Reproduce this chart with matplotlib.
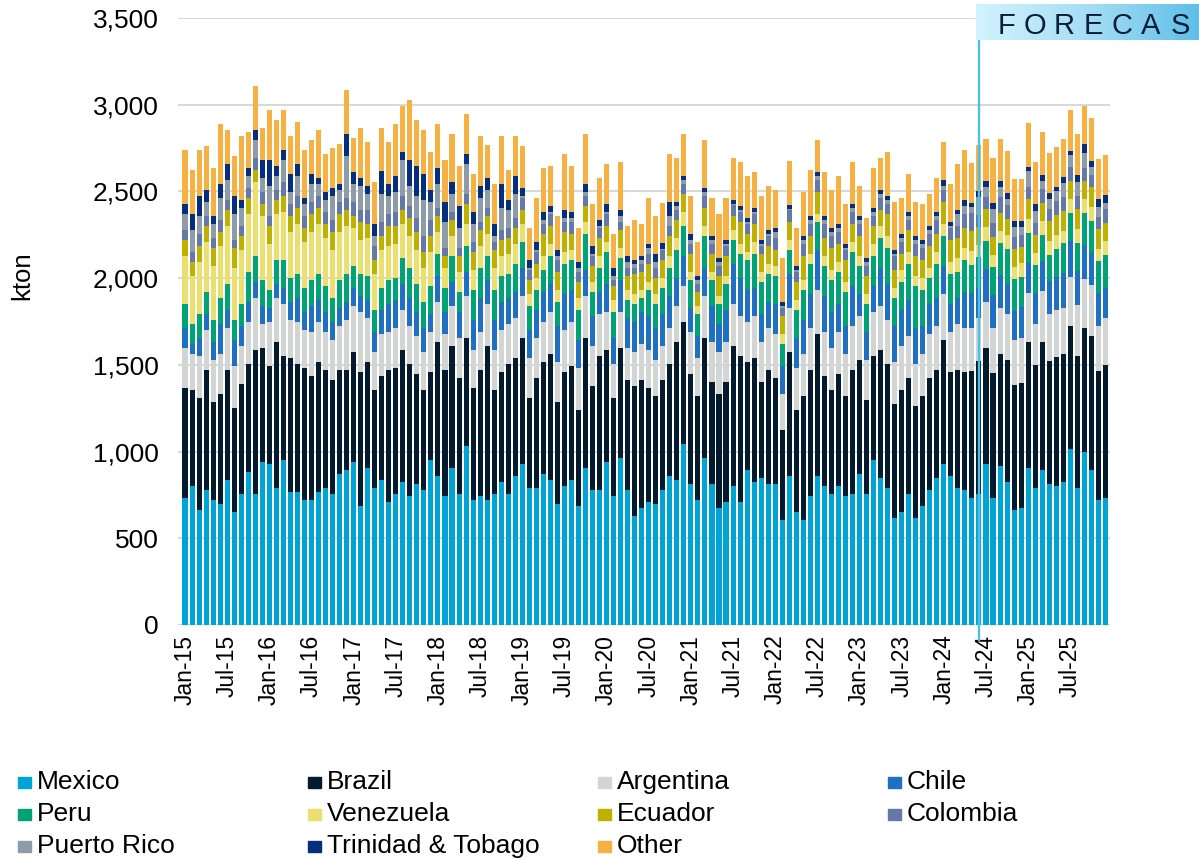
import numpy as np
import pandas as pd
import matplotlib
matplotlib.use('Agg')
import matplotlib.pyplot as plt
from matplotlib.patches import Rectangle
from matplotlib.colors import LinearSegmentedColormap

plt.rcParams['font.family'] = ['Liberation Sans', 'DejaVu Sans']

# monthly imports, kton, Jan-15 .. Dec-25 (one row per year)
mexico = [731, 800, 662, 777, 719, 696, 834, 650, 755, 880, 755, 939,
          927, 789, 951, 765, 765, 719, 719, 765, 789, 755, 870, 893,
          939, 684, 905, 789, 834, 708, 755, 824, 743, 812, 777, 951,
          858, 743, 905, 755, 1030, 719, 743, 719, 755, 824, 755, 858,
          927, 789, 789, 870, 834, 696, 800, 834, 684, 905, 777, 777,
          939, 743, 961, 777, 627, 674, 708, 696, 777, 858, 834, 1042,
          812, 719, 961, 812, 674, 708, 800, 708, 893, 824, 846, 812,
          812, 603, 858, 650, 603, 743, 858, 800, 755, 800, 743, 755,
          870, 755, 951, 846, 789, 615, 650, 755, 615, 684, 777, 846,
          927, 858, 789, 777, 733, 756, 930, 733, 919, 826, 663, 675,
          907, 791, 896, 814, 802, 826, 1012, 791, 1000, 896, 721, 733]
brazil = [636, 555, 646, 692, 567, 636, 636, 601, 634, 623, 830, 658,
          565, 842, 599, 773, 739, 763, 716, 751, 680, 658, 599, 577,
          634, 773, 611, 565, 601, 761, 727, 761, 761, 636, 577, 506,
          773, 727, 704, 668, 623, 648, 727, 891, 599, 634, 749, 680,
          727, 518, 634, 646, 729, 589, 658, 658, 555, 749, 599, 773,
          646, 565, 636, 636, 749, 739, 658, 623, 636, 646, 797, 704,
          636, 601, 692, 589, 658, 692, 810, 842, 623, 714, 555, 658,
          611, 520, 714, 589, 716, 727, 820, 636, 599, 648, 577, 714,
          658, 542, 599, 739, 714, 658, 704, 668, 648, 636, 646, 623,
          716, 599, 680, 680, 730, 765, 668, 719, 644, 702, 719, 719,
          726, 707, 737, 707, 742, 737, 714, 761, 714, 772, 742, 765]
argentina = [231, 208, 243, 231, 243, 231, 243, 241, 221, 243, 300, 138,
             255, 253, 300, 221, 243, 219, 253, 231, 219, 231, 255, 289,
             267, 346, 253, 219, 243, 219, 231, 231, 221, 219, 219, 231,
             231, 208, 231, 231, 243, 219, 219, 241, 231, 243, 231, 231,
             243, 231, 231, 231, 241, 231, 243, 255, 243, 243, 233, 243,
             219, 196, 206, 184, 196, 206, 219, 208, 196, 208, 208, 208,
             241, 219, 243, 231, 241, 231, 241, 231, 231, 243, 231, 243,
             255, 208, 255, 243, 243, 243, 253, 253, 243, 241, 243, 255,
             253, 231, 253, 255, 255, 243, 255, 243, 241, 243, 255, 255,
             265, 231, 265, 255, 251, 251, 267, 263, 267, 267, 263, 263,
             279, 240, 291, 274, 274, 267, 279, 291, 279, 291, 263, 274]
chile = [117, 57, 103, 93, 103, 172, 103, 152, 115, 115, 93, 103,
         81, 81, 93, 103, 138, 103, 150, 128, 115, 103, 103, 103,
         103, 93, 105, 115, 138, 162, 162, 150, 160, 138, 140, 105,
         150, 125, 138, 150, 138, 174, 196, 140, 174, 162, 150, 150,
         162, 162, 162, 172, 162, 208, 208, 184, 162, 150, 172, 125,
         162, 150, 186, 172, 174, 184, 196, 184, 184, 184, 160, 172,
         140, 128, 162, 208, 162, 184, 231, 219, 184, 162, 162, 150,
         172, 160, 196, 172, 196, 196, 231, 208, 206, 162, 162, 231,
         128, 160, 152, 219, 206, 208, 206, 208, 208, 162, 172, 160,
         162, 162, 150, 206, 198, 174, 186, 186, 186, 174, 163, 174,
         174, 174, 174, 186, 186, 198, 209, 198, 198, 186, 186, 174]
peru = [138, 115, 140, 125, 128, 150, 150, 115, 125, 172, 150, 152,
        103, 140, 162, 138, 140, 140, 152, 150, 152, 138, 162, 162,
        128, 128, 138, 128, 128, 140, 125, 150, 174, 162, 150, 162,
        128, 140, 150, 115, 152, 172, 174, 138, 172, 150, 140, 162,
        150, 140, 115, 128, 162, 138, 172, 174, 172, 208, 138, 140,
        184, 150, 125, 105, 103, 81, 150, 138, 150, 162, 162, 174,
        162, 128, 184, 150, 115, 150, 140, 140, 174, 196, 184, 162,
        162, 128, 138, 162, 172, 172, 162, 174, 186, 184, 194, 194,
        162, 162, 172, 172, 208, 160, 162, 206, 243, 206, 150, 196,
        172, 174, 150, 186, 163, 174, 163, 163, 186, 198, 186, 174,
        174, 163, 151, 151, 163, 174, 163, 163, 186, 186, 186, 186]
venezuela = [275, 277, 300, 289, 312, 302, 336, 300, 312, 336, 427, 368,
             265, 265, 277, 267, 287, 265, 277, 287, 275, 277, 277, 277,
             219, 196, 219, 208, 219, 196, 196, 196, 184, 196, 196, 194,
             128, 115, 115, 115, 125, 115, 128, 128, 128, 115, 115, 115,
             103, 69, 69, 81, 69, 69, 69, 57, 69, 69, 59, 69,
             59, 71, 59, 57, 59, 47, 47, 59, 57, 69, 69, 81,
             45, 47, 59, 45, 47, 47, 57, 57, 45, 69, 57, 57,
             59, 59, 59, 59, 57, 59, 47, 57, 57, 59, 59, 59,
             57, 59, 69, 71, 69, 59, 69, 69, 57, 69, 59, 69,
             69, 69, 81, 69, 81, 70, 81, 70, 70, 81, 70, 81,
             81, 70, 81, 81, 81, 70, 81, 81, 81, 81, 70, 81]
ecuador = [93, 81, 93, 93, 103, 81, 91, 115, 81, 91, 69, 69,
           105, 81, 91, 91, 93, 81, 103, 93, 81, 105, 103, 91,
           69, 103, 81, 81, 81, 115, 105, 81, 103, 105, 91, 93,
           91, 69, 93, 93, 115, 103, 91, 103, 103, 93, 91, 93,
           81, 81, 81, 128, 105, 103, 117, 93, 93, 93, 93, 103,
           93, 81, 103, 81, 115, 103, 103, 91, 105, 115, 105, 103,
           105, 79, 103, 105, 115, 115, 81, 128, 105, 103, 105, 105,
           91, 103, 103, 103, 140, 103, 128, 103, 128, 103, 128, 103,
           115, 103, 105, 91, 128, 103, 93, 128, 115, 105, 128, 105,
           128, 128, 115, 115, 116, 105, 105, 105, 105, 93, 105, 93,
           116, 105, 105, 116, 116, 116, 105, 116, 105, 116, 116, 105]
colombia = [57, 57, 69, 57, 57, 69, 59, 47, 59, 59, 69, 71,
            57, 57, 81, 69, 69, 69, 69, 69, 71, 69, 69, 69,
            81, 69, 81, 81, 81, 69, 81, 81, 71, 79, 93, 93,
            47, 47, 47, 47, 59, 59, 47, 47, 47, 57, 59, 57,
            69, 57, 69, 57, 69, 71, 57, 69, 57, 57, 57, 59,
            69, 34, 47, 47, 34, 47, 59, 59, 57, 59, 57, 57,
            57, 47, 69, 57, 59, 59, 59, 59, 57, 59, 47, 57,
            69, 47, 69, 57, 69, 69, 69, 81, 69, 71, 57, 71,
            69, 59, 57, 69, 57, 81, 69, 59, 69, 69, 69, 81,
            69, 69, 71, 81, 105, 70, 70, 81, 93, 81, 70, 70,
            70, 70, 81, 70, 81, 81, 79, 70, 70, 67, 70, 81]
puerto_rico = [93, 128, 103, 81, 81, 125, 115, 150, 103, 69, 105, 79,
               174, 81, 128, 71, 115, 69, 103, 69, 69, 138, 69, 243,
               103, 140, 93, 57, 162, 103, 115, 208, 115, 128, 208, 103,
               138, 150, 103, 115, 172, 103, 138, 103, 34, 128, 103, 140,
               12, 12, 12, 24, 12, 22, 22, 22, 24, 24, 12, 12,
               12, 22, 34, 34, 22, 24, 34, 34, 5, 57, 24, 24,
               24, 24, 24, 24, 22, 10, 10, 10, 12, 12, 10, 12,
               36, 12, 5, 12, 24, 24, 22, 24, 24, 22, 12, 22,
               24, 22, 24, 24, 24, 12, 22, 22, 24, 22, 22, 22,
               24, 12, 69, 47, 35, 105, 58, 81, 58, 35, 58, 47,
               91, 70, 47, 58, 58, 81, 70, 81, 91, 47, 58, 35]
trinidad = [57, 93, 115, 69, 47, 81, 91, 103, 47, 47, 57, 105,
            150, 59, 57, 103, 69, 34, 59, 34, 47, 47, 34, 128,
            71, 45, 47, 69, 128, 69, 91, 47, 150, 174, 150, 69,
            93, 115, 69, 128, 59, 71, 71, 69, 69, 138, 59, 103,
            47, 47, 47, 47, 34, 34, 47, 36, 34, 45, 47, 34,
            45, 47, 34, 34, 24, 22, 22, 47, 34, 81, 22, 22,
            34, 22, 22, 22, 22, 24, 24, 24, 22, 22, 24, 22,
            22, 22, 24, 24, 22, 22, 24, 22, 22, 22, 22, 22,
            22, 22, 22, 22, 22, 22, 24, 24, 22, 24, 24, 24,
            34, 22, 22, 34, 23, 35, 35, 35, 35, 35, 35, 35,
            23, 35, 33, 35, 23, 35, 23, 44, 47, 35, 47, 47]
other = [312, 253, 265, 255, 277, 346, 196, 231, 368, 208, 255, 184,
         287, 265, 231, 219, 243, 277, 196, 277, 219, 231, 231, 253,
         194, 289, 253, 243, 253, 243, 300, 265, 346, 265, 253, 221,
         253, 243, 277, 231, 231, 219, 287, 186, 231, 277, 172, 231,
         243, 184, 253, 253, 231, 196, 324, 265, 196, 289, 241, 241,
         231, 196, 277, 174, 231, 184, 265, 219, 231, 277, 253, 243,
         219, 196, 277, 219, 255, 241, 241, 253, 243, 208, 253, 255,
         219, 253, 253, 219, 255, 265, 184, 255, 219, 277, 231, 243,
         174, 231, 231, 184, 255, 277, 206, 219, 196, 206, 184, 194,
         219, 219, 265, 287, 230, 265, 242, 254, 242, 242, 242, 242,
         256, 242, 244, 230, 230, 219, 233, 233, 221, 244, 230, 230]

names = ['Mexico', 'Brazil', 'Argentina', 'Chile', 'Peru', 'Venezuela',
         'Ecuador', 'Colombia', 'Puerto Rico', 'Trinidad & Tobago', 'Other']
series = [mexico, brazil, argentina, chile, peru, venezuela,
          ecuador, colombia, puerto_rico, trinidad, other]
colors = ['#00a3d6', '#031a2f', '#d3d4d4', '#1f6fc3', '#00a374', '#ebdf6f',
          '#bfb100', '#6479a9', '#8e9ba8', '#062e7e', '#f7b143']

months = pd.date_range('2015-01-01', '2025-12-01', freq='MS')
labels = [m.strftime('%b-%y') for m in months]
forecast_start = 'Jun-24'

fig = plt.figure(figsize=(11.99, 8.6), dpi=100)
ax = fig.add_axes([178 / 1199, 1 - 625 / 860, 932 / 1199, 607 / 860])

x = np.arange(len(labels))
bottom = np.zeros(len(labels))
for name, vals, c in zip(names, series, colors):
    vals = np.array(vals, dtype=float)
    ax.bar(x, vals, 0.72, bottom=bottom, color=c, label=name, linewidth=0, zorder=2)
    bottom += vals

ax.set_xlim(-1.0, 131.65)
ax.set_ylim(0, 3500)
ax.set_yticks(np.arange(0, 3501, 500))
ax.set_yticklabels([f'{v:,}' for v in range(0, 3501, 500)], fontsize=19)
ax.set_xticks(x[::6])
ax.set_xticklabels(labels[::6], rotation=90, fontsize=16.5)
ax.tick_params(axis='y', length=0, pad=14)
ax.tick_params(axis='x', length=0, pad=7)
ax.yaxis.grid(True, color='#d9d9d9', linewidth=1.5, zorder=0)
ax.set_axisbelow(True)
for s in ax.spines.values():
    s.set_visible(False)

# forecast marker
fx = labels.index(forecast_start)
ax.axvline(fx, ymin=-0.025, ymax=1.0, color='#4cc0e8', linewidth=1.7,
           zorder=5, clip_on=False)

bax = fig.add_axes([976 / 1199, 1 - 40 / 860, 223 / 1199, 36 / 860])
grad = np.linspace(0, 1, 256).reshape(1, -1)
cmap = LinearSegmentedColormap.from_list('fc', ['#d2f3fd', '#a6def5', '#5fbee9'])
bax.imshow(grad, aspect='auto', cmap=cmap, extent=[0, 1, 0, 1])
bax.set_axis_off()
# spaced-out banner text, running off the right edge like the original
for i, ch in enumerate('FORECAST'):
    fig.text((1006 + i * 29) / 1199, 1 - 34 / 860, ch, fontsize=21,
             color='#0b1f3a', ha='center', va='baseline')

fig.text(22 / 1199, 1 - 276 / 860, 'kton', rotation=90, fontsize=18.5,
         ha='center', va='center')

# legend, laid out in rows of four
col_x = [18, 308, 598, 888]
row_y = [782, 814, 846]
for i, (name, c) in enumerate(zip(names, colors)):
    cx = col_x[i % 4]
    cy = row_y[i // 4]
    fig.patches.append(Rectangle((cx / 1199, 1 - (cy + 6) / 860), 13 / 1199, 11 / 860,
                                 transform=fig.transFigure, color=c))
    fig.text((cx + 19) / 1199, 1 - cy / 860, name, fontsize=19,
             ha='left', va='center')

fig.savefig('out.png', dpi=100)
